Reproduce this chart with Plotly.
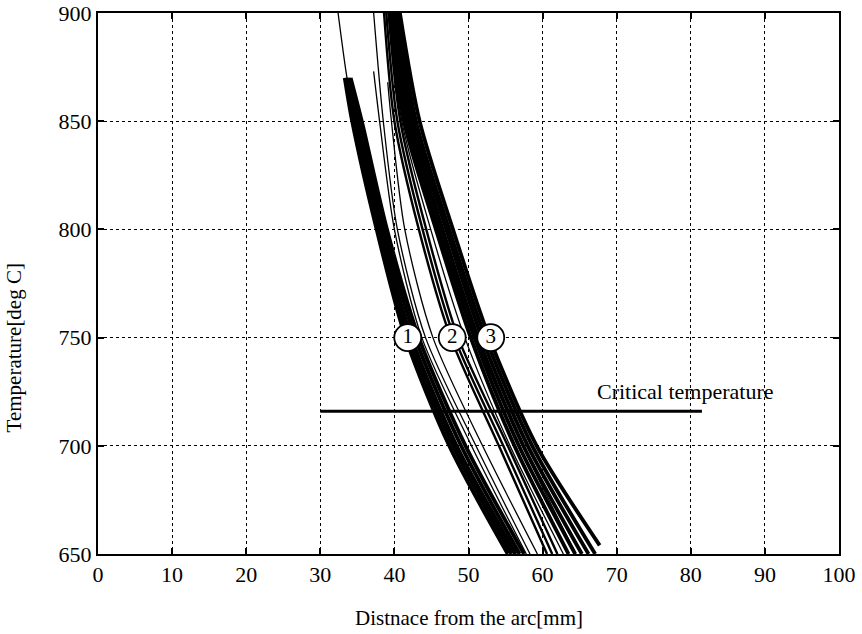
import plotly.graph_objects as go

# ---- data ----
T_g1 = [870, 850, 800, 750, 700, 650]
x_g1 = [
    [33.3, 34.3, 37.6, 41.5, 47.4, 55.3],
    [33.5, 34.6, 37.9, 41.9, 47.9, 55.8],
    [33.7, 34.9, 38.2, 42.3, 48.4, 56.4],
    [33.9, 35.2, 38.6, 42.8, 49.0, 56.9],
    [34.1, 35.6, 39.0, 43.3, 49.6, 57.5],
]

T_thin0 = [900, 870, 850, 800, 750, 700, 650]
x_thin0 = [32.4, 33.6, 34.7, 38.0, 42.1, 48.2, 56.1]

T_thin_a = [[900, 850, 800, 750, 700, 650],
            [873, 850, 800, 750, 700, 650],
            [868, 850, 800, 750, 700, 650]]
x_thin_a = [[37.2, 38.5, 40.4, 44.2, 51.0, 58.3],
            [37.2, 38.0, 40.0, 43.7, 50.4, 57.8],
            [39.1, 39.6, 41.4, 45.2, 51.9, 59.3]]

T_std = [900, 850, 800, 750, 700, 650]
x_g2 = [
    [38.6, 40.0, 43.3, 47.6, 54.1, 60.6],
    [38.9, 40.4, 43.8, 48.1, 54.7, 61.3],
    [39.2, 40.8, 44.3, 48.6, 55.3, 62.0],
]
x_thin_b = [
    [39.3, 41.0, 44.9, 49.5, 55.6, 62.8],
    [40.0, 42.0, 46.3, 51.0, 57.3, 64.5],
]
T_g3 = [[900, 850, 800, 750, 700, 650]] * 5 + [[903, 850, 800, 750, 700, 654]]
x_g3 = [
    [39.4, 41.3, 45.6, 50.3, 56.2, 63.5],
    [39.6, 41.7, 46.0, 50.8, 56.8, 64.4],
    [39.9, 42.1, 46.5, 51.3, 57.4, 65.3],
    [40.2, 42.5, 47.0, 51.8, 58.0, 66.2],
    [40.5, 42.9, 47.4, 52.3, 58.6, 67.1],
    [40.6, 43.4, 47.9, 52.8, 59.2, 67.7],
]

crit_x = [30, 81.5]
crit_T = 716
crit_label = "Critical temperature"

label_x = [41.8, 47.8, 53.0]
label_T = [750, 750, 750]
label_txt = ["1", "2", "3"]

x_ticks = [0, 10, 20, 30, 40, 50, 60, 70, 80, 90, 100]
y_ticks = [650, 700, 750, 800, 850, 900]

FONT = "Liberation Serif, Times New Roman, serif"

fig = go.Figure()

def add_curve(xs, ts, w):
    fig.add_trace(go.Scatter(x=xs, y=ts, mode="lines",
                             line=dict(color="black", width=w, shape="spline", smoothing=0.8),
                             showlegend=False, hoverinfo="skip", cliponaxis=False))

for xs in x_g1:
    add_curve(xs, T_g1, 3.8)
add_curve(x_thin0, T_thin0, 1.3)
for xs, ts in zip(x_thin_a, T_thin_a):
    add_curve(xs, ts, 1.3)
for xs in x_g2:
    add_curve(xs, T_std, 2.4)
for xs in x_thin_b:
    add_curve(xs, T_std, 1.3)
for xs, ts in zip(x_g3, T_g3):
    add_curve(xs, ts, 3.8)

# critical temperature line
fig.add_trace(go.Scatter(x=crit_x, y=[crit_T, crit_T], mode="lines",
                         line=dict(color="black", width=3), showlegend=False,
                         hoverinfo="skip"))

# circled labels
fig.add_trace(go.Scatter(x=label_x, y=label_T, mode="markers+text",
                         text=label_txt, textposition="middle center",
                         textfont=dict(family=FONT, size=21, color="black"),
                         marker=dict(symbol="circle", size=27, color="white",
                                     line=dict(color="black", width=1.8)),
                         showlegend=False, hoverinfo="skip"))

fig.add_annotation(x=67.1, y=725, xref="x", yref="y", text=crit_label,
                   showarrow=False, xanchor="left", yanchor="middle",
                   font=dict(family=FONT, size=22, color="black"))

fig.add_annotation(x=0.5, y=0, xref="paper", yref="paper",
                   text="Distnace from the arc[mm]", showarrow=False,
                   xanchor="center", yanchor="middle", yshift=-64,
                   font=dict(family=FONT, size=21, color="black"))
fig.add_annotation(x=0, y=0.38, xref="paper", yref="paper",
                   text="Temperature[deg C]", showarrow=False, textangle=-90,
                   xanchor="center", yanchor="middle", xshift=-84,
                   font=dict(family=FONT, size=21, color="black"))

axis_common = dict(showline=True, linecolor="black", linewidth=2, mirror="ticks",
                   ticks="inside", ticklen=6, tickcolor="black", tickwidth=1.5,
                   showgrid=True, gridcolor="black", gridwidth=1, griddash="dot",
                   zeroline=False, automargin=False,
                   tickfont=dict(family=FONT, size=22, color="black"))

fig.update_xaxes(range=[0, 100], tickvals=x_ticks, **axis_common)
fig.update_yaxes(range=[650, 900], tickvals=y_ticks, **axis_common)

fig.update_layout(width=862, height=634,
                  margin=dict(l=98, r=23, t=13, b=80, autoexpand=False),
                  paper_bgcolor="white", plot_bgcolor="white",
                  font=dict(family=FONT, color="black"))

fig.write_html("out.html")
